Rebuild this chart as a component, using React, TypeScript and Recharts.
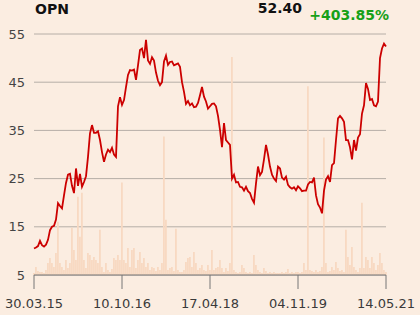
import React from 'react';
import { ComposedChart, Line, Bar, XAxis, YAxis, CartesianGrid } from 'recharts';

// closing prices, one point every ~2 weeks
const prices = [
  10.5, 10.7, 11.0, 12.1, 11.2, 10.9, 11.3, 12.3, 14.3, 15.0,
  15.2, 16.5, 19.9, 19.3, 18.8, 21.5, 24.1, 25.8, 26.0, 23.5,
  22.0, 27.1, 23.5, 26.0, 23.3, 24.3, 25.5, 29.5, 34.4, 36.1,
  34.5, 34.5, 34.8, 33.0, 30.5, 28.5, 30.0, 31.0, 30.5, 31.4,
  30.0, 29.5, 40.0, 41.9, 40.3, 41.3, 44.0, 46.5, 47.5, 47.4,
  47.6, 45.5, 48.5, 51.7, 52.0, 50.0, 53.8, 49.5, 48.8, 50.2,
  49.5, 47.0, 45.3, 44.4, 45.0, 49.3, 50.5, 48.6, 49.2, 49.3,
  48.5, 48.7, 48.9, 48.2, 45.0, 43.0, 40.5, 41.1, 40.2, 40.6,
  39.8, 39.9, 40.7, 42.3, 44.0, 42.0, 41.0, 39.5, 40.0, 40.5,
  40.6, 40.0, 38.0, 35.1, 31.5, 36.5, 33.0, 32.5, 32.0, 25.0,
  25.8, 24.2, 24.3, 23.3, 23.2, 22.5, 23.3, 22.4, 22.0, 20.8,
  20.0, 24.0, 27.5, 25.7, 26.4, 29.0, 32.0, 30.0, 27.5, 25.8,
  25.0, 24.5, 27.5, 27.1, 25.2, 24.8, 25.4, 23.7, 23.2, 22.9,
  23.2, 22.6, 23.4, 23.0, 22.4, 22.5, 22.5, 23.8, 24.3, 24.2,
  25.2, 21.5, 19.7, 19.0, 17.8, 22.5, 24.8, 25.5, 24.3, 27.8,
  28.2, 33.0, 37.5, 38.0, 37.5, 36.8, 33.0, 33.0, 31.5, 29.0,
  33.0, 30.8, 33.5, 34.2, 38.5, 40.2, 44.8, 43.6, 41.3, 41.5,
  40.2, 40.0, 41.0, 50.0, 52.0, 53.0, 52.4,
];

// traded volume (thousands)
const volumes = [
  2, 8, 4, 3, 3, 2, 5, 12, 17, 12,
  8, 22, 53, 12, 8, 5, 15, 7, 12, 47,
  25, 15, 78, 38, 82, 15, 7, 22, 20, 15,
  18, 15, 12, 45, 8, 3, 12, 5, 3, 6,
  17, 15, 20, 15, 92, 15, 12, 27, 8, 25,
  27, 7, 15, 23, 12, 17, 8, 12, 5, 8,
  7, 4, 8, 5, 12, 138, 55, 5, 7, 8,
  4, 46, 5, 3, 3, 5, 13, 17, 18, 8,
  23, 12, 5, 7, 10, 5, 4, 10, 5, 25,
  5, 7, 8, 15, 7, 3, 7, 4, 12, 217,
  5, 3, 2, 3, 10, 7, 3, 2, 3, 2,
  20, 10, 5, 3, 2, 7, 4, 2, 3, 2,
  3, 2, 2, 2, 3, 2, 3, 6, 2, 3,
  2, 3, 3, 2, 3, 12, 5, 188, 5, 4,
  3, 5, 3, 4, 8, 137, 12, 3, 4, 8,
  5, 13, 7, 4, 5, 3, 45, 18, 10, 28,
  8, 5, 3, 7, 72, 7, 18, 15, 7, 18,
  12, 5, 10, 22, 12, 5, 3,
];

const dateTicks = [0, 44, 88, 132, 176];
const dateLabels = ['30.03.15', '10.10.16', '17.04.18', '04.11.19', '14.05.21'];
const priceTicks = [5, 15, 25, 35, 45, 55];

const symbol = 'OPN';
const lastPrice = '52.40';
const change = '+403.85%';

const data = prices.map((p, i) => ({ i, price: p, volume: volumes[i] }));

const font = '"DejaVu Sans", Verdana, sans-serif';

export default function App() {
  return (
    <div
      style={{
        position: 'absolute',
        left: 0,
        top: 0,
        width: 420,
        height: 315,
        background: '#FBEDE1',
        fontFamily: font,
        overflow: 'hidden',
      }}
    >
      <div style={{ position: 'absolute', left: 35, top: 1, fontSize: 14, fontWeight: 'bold', color: '#111' }}>
        {symbol}
      </div>
      <div style={{ position: 'absolute', right: 118, top: 0, fontSize: 14, fontWeight: 'bold', color: '#111' }}>
        {lastPrice}
      </div>
      <div style={{ position: 'absolute', right: 31, top: 7, fontSize: 14, fontWeight: 'bold', color: '#17A017' }}>
        {change}
      </div>

      <ComposedChart
        width={420}
        height={315}
        data={data}
        margin={{ top: 34, right: 34, bottom: 0, left: 0 }}
        style={{ position: 'absolute', left: 0, top: 0 }}
      >
        <CartesianGrid vertical={false} stroke="#B6AEA7" yAxisId="p" />
        <XAxis
          dataKey="i"
          type="number"
          domain={[0, 176]}
          ticks={dateTicks}
          tickFormatter={(v: number) => dateLabels[dateTicks.indexOf(v)] ?? ''}
          height={40}
          tickSize={14}
          tickMargin={10}
          stroke="#777"
          tick={{ fill: '#3a3a3a', fontSize: 13, fontFamily: font }}
          interval={0}
        />
        <YAxis
          yAxisId="p"
          domain={[5, 55]}
          ticks={priceTicks}
          width={34}
          axisLine={false}
          tickLine={false}
          tickMargin={3}
          tick={{ fill: '#444', fontSize: 13, fontFamily: font }}
        />
        <YAxis yAxisId="v" orientation="right" domain={[0, 240]} hide />
        <Bar yAxisId="v" dataKey="volume" fill="#F8D9C2" barSize={2} isAnimationActive={false} />
        <Line
          yAxisId="p"
          dataKey="price"
          type="linear"
          stroke="#CC0000"
          strokeWidth={1.8}
          dot={false}
          isAnimationActive={false}
        />
      </ComposedChart>
    </div>
  );
}
